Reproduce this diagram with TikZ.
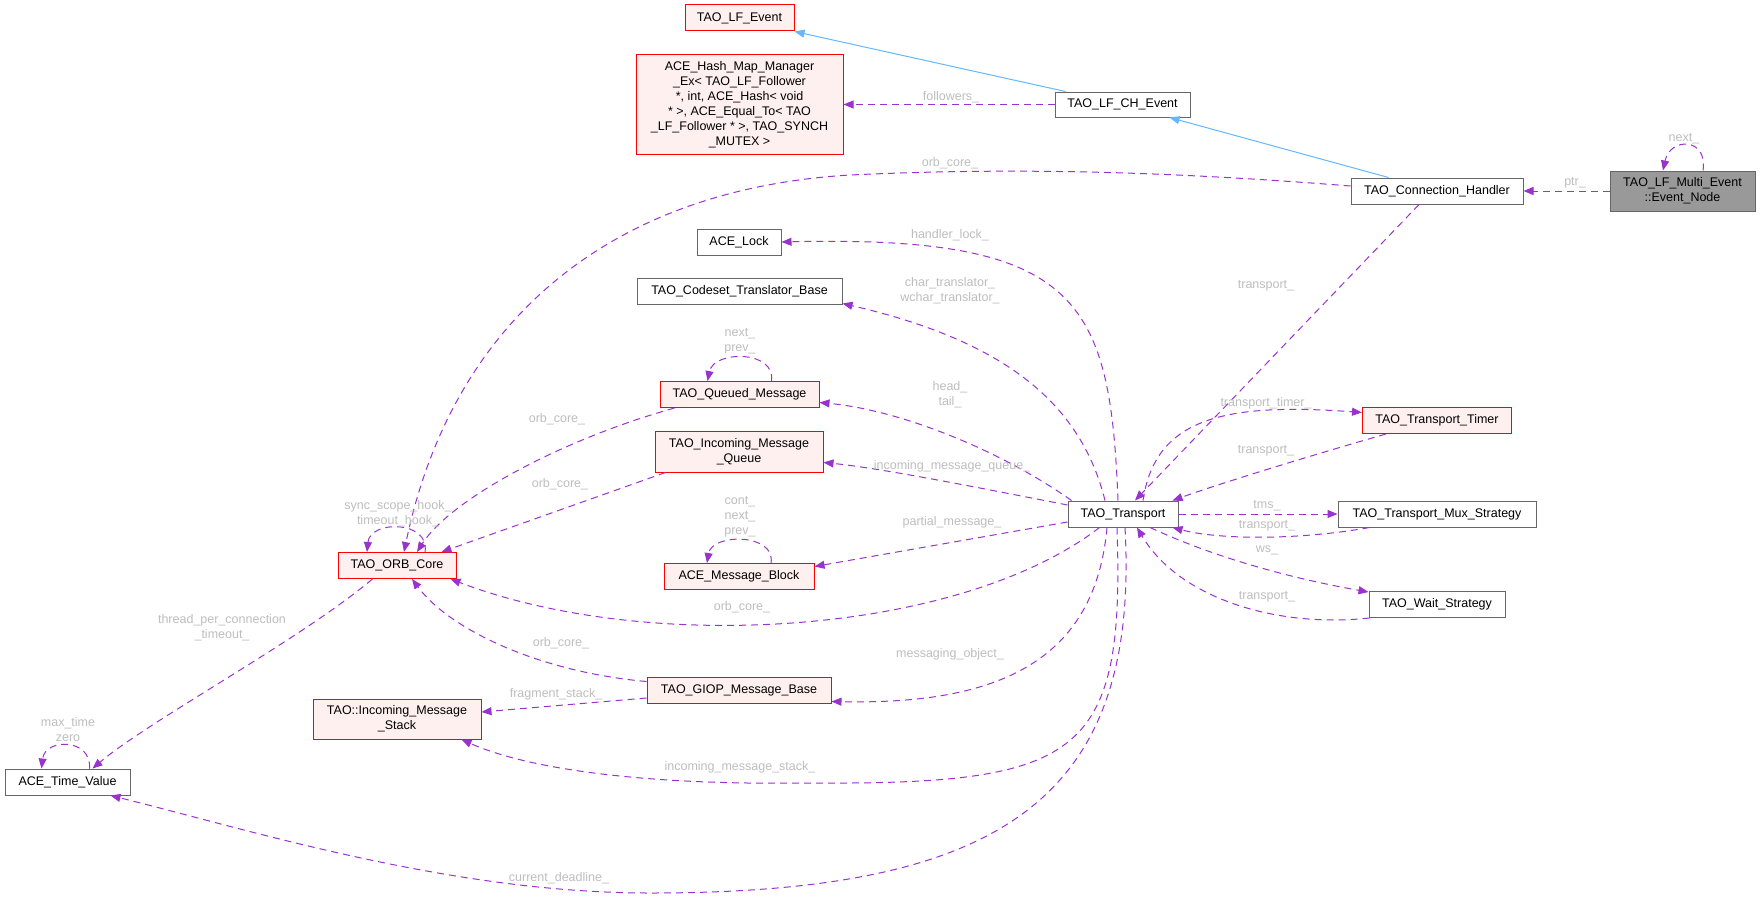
\documentclass[tikz,border=0pt]{standalone}
\usepackage{fontspec}
\setmainfont{Liberation Sans}
\usetikzlibrary{arrows.meta,calc}
\definecolor{dorchid}{HTML}{9A32CD}
\definecolor{sblue}{HTML}{63B8FF}
\definecolor{labgray}{HTML}{BEBEBE}
\definecolor{boxgray}{HTML}{666666}
\definecolor{pinkfill}{HTML}{FFF0F0}
\definecolor{nodegray}{HTML}{999999}
\newcommand{\dgfont}{\fontsize{12.5}{15}\selectfont}
\begin{document}
\begin{tikzpicture}[x=1pt,y=-1pt,
  box/.style={draw=boxgray, fill=white, line width=1pt, inner sep=0pt, text=black, align=center, font=\dgfont},
  redbox/.style={box, draw=red, fill=pinkfill},
  dep/.style={draw=dorchid, line width=1pt, dash pattern=on 7pt off 5pt, -{Triangle[length=10pt,width=8pt]}},
  inh/.style={draw=sblue, line width=1pt, -{Triangle[length=10pt,width=8pt]}},
  elab/.style={text=labgray, font=\dgfont, align=center, inner sep=0pt}]
\useasboundingbox (0,0) rectangle (1760,899);
\fill[white] (0,0) rectangle (1760,899);

% nodes
\node[redbox, minimum width=109pt, minimum height=26pt] (lfe) at (739.5,18) {TAO\_LF\_Event};
\node[redbox, minimum width=207pt, minimum height=99pt] (hash) at (739.5,104.5) {ACE\_Hash\_Map\_Manager\\\_Ex< TAO\_LF\_Follower\\*, int, ACE\_Hash< void\\* >, ACE\_Equal\_To< TAO\\\_LF\_Follower * >, TAO\_SYNCH\\\_MUTEX >};
\node[box, minimum width=84pt, minimum height=26pt] (lock) at (739,242) {ACE\_Lock};
\node[box, minimum width=205pt, minimum height=26pt] (codeset) at (739.5,291) {TAO\_Codeset\_Translator\_Base};
\node[redbox, minimum width=159pt, minimum height=26pt] (queued) at (739.5,394.5) {TAO\_Queued\_Message};
\node[redbox, minimum width=168pt, minimum height=41pt] (inq) at (739,451.5) {TAO\_Incoming\_Message\\\_Queue};
\node[redbox, minimum width=150pt, minimum height=26pt] (mb) at (739,576.5) {ACE\_Message\_Block};
\node[redbox, minimum width=184pt, minimum height=26pt] (giop) at (739,690) {TAO\_GIOP\_Message\_Base};
\node[redbox, minimum width=118pt, minimum height=26pt] (orb) at (397,565.5) {TAO\_ORB\_Core};
\node[redbox, minimum width=168pt, minimum height=40pt] (stack) at (397,719) {TAO::Incoming\_Message\\\_Stack};
\node[box, minimum width=125pt, minimum height=26pt] (tv) at (67.5,782) {ACE\_Time\_Value};
\node[box, minimum width=135pt, minimum height=25pt] (chev) at (1122.5,104.5) {TAO\_LF\_CH\_Event};
\node[box, minimum width=110pt, minimum height=26pt] (tr) at (1123,514) {TAO\_Transport};
\node[box, minimum width=172pt, minimum height=26pt] (ch) at (1437,191) {TAO\_Connection\_Handler};
\node[redbox, minimum width=149pt, minimum height=26pt] (timer) at (1437,420.5) {TAO\_Transport\_Timer};
\node[box, minimum width=198pt, minimum height=26pt] (mux) at (1437,514) {TAO\_Transport\_Mux\_Strategy};
\node[box, minimum width=136pt, minimum height=26pt] (wait) at (1437,604.5) {TAO\_Wait\_Strategy};
\node[box, fill=nodegray, minimum width=145pt, minimum height=40pt] (en) at (1682.5,191) {TAO\_LF\_Multi\_Event\\::Event\_Node};

% inheritance
\draw[inh] ($(chev.north west)+(11,0)$) -- (lfe.south east);
\draw[inh] ($(ch.north west)+(38,0)$) -- ($(chev.south east)+(-21,0)$);

% dependencies
\draw[dep] (chev.west) -- (hash.east);
\draw[dep] (en.west) -- (ch.east);
\draw[dep] ($(en.north)+(20.5,0)$) .. controls (1708,137) and (1670,137) .. ($(en.north)+(-19.5,0)$);
\draw[dep] ($(ch.west)+(0,-5)$) .. controls (1150,170) and (1000,168) .. (850,175) .. controls (600,190) and (450,330) .. ($(orb.north)+(7,0)$);
\draw[dep] ($(ch.south)+(-18,0)$) -- ($(tr.north)+(12,0)$);
\draw[dep] ($(tr.north)+(20,0)$) .. controls (1155,420) and (1220,402) .. ($(timer.west)+(0,-8)$);
\draw[dep] ($(timer.south west)+(24,0)$) .. controls (1330,450) and (1230,480) .. ($(tr.north east)+(-6,0)$);
\draw[dep] ($(tr.north)+(-5,0)$) .. controls (1110,300) and (1080,235) .. (lock.east);
\draw[dep] ($(tr.north)+(-18,0)$) .. controls (1080,400) and (1000,340) .. ($(codeset.south east)+(0,-1)$);
\draw[dep] ($(tr.north west)+(4,0)$) .. controls (1000,450) and (900,410) .. ($(queued.east)+(0,8)$);
\draw[dep] ($(queued.north)+(32,0)$) .. controls (776,350) and (714,350) .. ($(queued.north)+(-32,0)$);
\draw[dep] ($(queued.south west)+(15,0)$) .. controls (560,440) and (450,500) .. ($(orb.north)+(20,0)$);
\draw[dep] ($(inq.south west)+(11,0)$) -- ($(orb.north east)+(-15,0)$);
\draw[dep] ($(orb.north)+(28,0)$) .. controls (430,520) and (370,520) .. ($(orb.north)+(-30,0)$);
\draw[dep] ($(tr.west)+(0,-9)$) .. controls (980,488) and (880,468) .. ($(inq.east)+(0,11)$);
\draw[dep] ($(tr.west)+(0,8)$) -- ($(mb.east)+(0,-10)$);
\draw[dep] ($(mb.north)+(32,0)$) .. controls (776,533) and (712,533) .. ($(mb.north)+(-32,0)$);
\draw[dep] ($(tr.south west)+(32,0)$) .. controls (960,635) and (650,655) .. ($(orb.south east)+(-6,0)$);
\draw[dep] ($(giop.north west)+(0,5)$) .. controls (540,672) and (450,630) .. ($(orb.south)+(15,0)$);
\draw[dep] ($(giop.west)+(0,8)$) -- ($(stack.east)+(0,-7)$);
\draw[dep] ($(tr.south)+(-16,0)$) .. controls (1095,660) and (1000,705) .. ($(giop.south east)+(0,-2)$);
\draw[dep] ($(tr.south)+(-6,0)$) .. controls (1125,760) and (1080,785) .. (800,783) .. controls (650,785) and (530,770) .. ($(stack.south east)+(-20,0)$);
\draw[dep] ($(tr.south)+(2,0)$) .. controls (1140,800) and (1000,893) .. (650,893) .. controls (450,893) and (250,830) .. ($(tv.south east)+(-20,0)$);
\draw[dep] ($(orb.south west)+(35,0)$) .. controls (300,640) and (150,720) .. ($(tv.north east)+(-38,0)$);
\draw[dep] ($(tv.north)+(22,0)$) .. controls (92,738) and (45,738) .. ($(tv.north)+(-26,0)$);
\draw[dep] (tr.east) -- (mux.west);
\draw[dep] ($(mux.south west)+(32,0)$) .. controls (1300,540) and (1220,540) .. ($(tr.south east)+(-6,0)$);
\draw[dep] ($(tr.south)+(27,0)$) .. controls (1220,560) and (1300,580) .. ($(wait.north west)+(0,1)$);
\draw[dep] ($(wait.south west)+(1,0)$) .. controls (1280,628) and (1180,600) .. ($(tr.south)+(14,0)$);

% edge labels
\node[elab] (l1) at (951,97) {followers\_};
\node[elab] (l2) at (1575,183) {ptr\_};
\node[elab] (l3) at (1684,139) {next\_};
\node[elab] (l4) at (950,163) {orb\_core\_};
\node[elab] (l5) at (1266,286) {transport\_};
\node[elab] (l6) at (950,235) {handler\_lock\_};
\node[elab] (l7) at (950,291) {char\_translator\_\\wchar\_translator\_};
\node[elab] (l8) at (740,341) {next\_\\prev\_};
\node[elab] (l9) at (950,394.5) {head\_\\tail\_};
\node[elab] (l10) at (557,419) {orb\_core\_};
\node[elab] (l11) at (560,484) {orb\_core\_};
\node[elab] (l12) at (398,514) {sync\_scope\_hook\_\\timeout\_hook\_};
\node[elab] (l13) at (952,466) {incoming\_message\_queue\_};
\node[elab] (l14) at (1266,403) {transport\_timer\_};
\node[elab] (l15) at (1266,451) {transport\_};
\node[elab] (l16) at (1267,506) {tms\_};
\node[elab] (l17) at (1267,526) {transport\_};
\node[elab] (l18) at (1267,550) {ws\_};
\node[elab] (l19) at (1267,597) {transport\_};
\node[elab] (l20) at (952,522) {partial\_message\_};
\node[elab] (l21) at (740,517) {cont\_\\next\_\\prev\_};
\node[elab] (l22) at (742,607) {orb\_core\_};
\node[elab] (l23) at (222,628) {thread\_per\_connection\\\_timeout\_};
\node[elab] (l24) at (561,643) {orb\_core\_};
\node[elab] (l25) at (950,654) {messaging\_object\_};
\node[elab] (l26) at (556,694) {fragment\_stack\_};
\node[elab] (l27) at (68,730) {max\_time\\zero};
\node[elab] (l28) at (740,767) {incoming\_message\_stack\_};
\node[elab] (l29) at (559,878) {current\_deadline\_};
\end{tikzpicture}
\end{document}
